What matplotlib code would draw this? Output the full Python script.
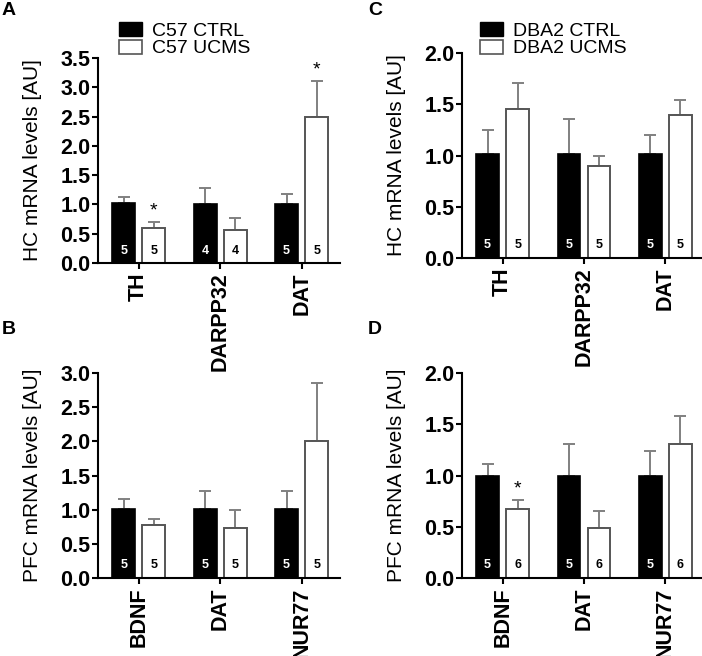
import matplotlib
matplotlib.use("Agg")
import matplotlib.pyplot as plt
from matplotlib.ticker import FormatStrFormatter, MultipleLocator
from matplotlib.patches import Patch
import numpy as np

plt.rcParams['font.family'] = ['Liberation Sans', 'DejaVu Sans']

# ---- data ----
genes_hc = ['TH', 'DARPP32', 'DAT']
genes_pfc = ['BDNF', 'DAT', 'NUR77']

# Panel A (C57, HC)
a_ctrl = [1.02, 1.01, 1.01]
a_ctrl_err = [0.10, 0.27, 0.16]
a_ucms = [0.59, 0.57, 2.50]
a_ucms_err = [0.11, 0.19, 0.60]
a_n_ctrl = [5, 4, 5]
a_n_ucms = [5, 4, 5]
a_star = [True, False, True]

# Panel B (C57, PFC)
b_ctrl = [1.01, 1.01, 1.01]
b_ctrl_err = [0.14, 0.26, 0.27]
b_ucms = [0.77, 0.73, 2.00]
b_ucms_err = [0.10, 0.26, 0.85]
b_n_ctrl = [5, 5, 5]
b_n_ucms = [5, 5, 5]
b_star = [False, False, False]

# Panel C (DBA2, HC)
c_ctrl = [1.01, 1.01, 1.01]
c_ctrl_err = [0.24, 0.35, 0.19]
c_ucms = [1.45, 0.90, 1.40]
c_ucms_err = [0.26, 0.10, 0.14]
c_n_ctrl = [5, 5, 5]
c_n_ucms = [5, 5, 5]
c_star = [False, False, False]

# Panel D (DBA2, PFC)
d_ctrl = [1.00, 1.00, 1.00]
d_ctrl_err = [0.11, 0.31, 0.24]
d_ucms = [0.67, 0.49, 1.31]
d_ucms_err = [0.09, 0.16, 0.27]
d_n_ctrl = [5, 5, 5]
d_n_ucms = [6, 6, 6]
d_star = [True, False, False]

FW, FH = 702, 656
fig = plt.figure(figsize=(FW / 100, FH / 100), dpi=100)

EDGE_GRAY = '#555555'
ERR_GRAY = '#808080'
W = 0.28
OFF = 0.185


def panel(rect, genes, ctrl, cerr, ucms, uerr, nc, nu, stars, ymax, ylabel,
          legend_labels=None, legend_xy=None, xright=2.47):
    ax = fig.add_axes(rect)
    x = np.arange(len(genes))
    ax.bar(x - OFF, ctrl, W, color='black', edgecolor='black', linewidth=1.2,
           zorder=2)
    ax.bar(x + OFF, ucms, W, color='white', edgecolor=EDGE_GRAY, linewidth=1.4,
           zorder=2)
    ax.errorbar(x - OFF, ctrl, yerr=[np.zeros(len(x)), cerr], fmt='none',
                ecolor=ERR_GRAY, elinewidth=1.4, capsize=4.5, capthick=1.4,
                zorder=1)
    ax.errorbar(x + OFF, ucms, yerr=[np.zeros(len(x)), uerr], fmt='none',
                ecolor=ERR_GRAY, elinewidth=1.4, capsize=4.5, capthick=1.4,
                zorder=1)
    for i in range(len(x)):
        ax.annotate(str(nc[i]), (x[i] - OFF, 0), xytext=(0, 9),
                    textcoords='offset points', ha='center', va='center',
                    color='white', fontsize=9, fontweight='bold', zorder=3)
        ax.annotate(str(nu[i]), (x[i] + OFF, 0), xytext=(0, 9),
                    textcoords='offset points', ha='center', va='center',
                    color='black', fontsize=9, fontweight='bold', zorder=3)
        if stars[i]:
            ax.annotate('*', (x[i] + OFF, ucms[i] + uerr[i]), xytext=(0, 2),
                        textcoords='offset points', ha='center', va='bottom',
                        color='black', fontsize=14, zorder=3)
    ax.set_xlim(-0.5, xright)
    ax.set_ylim(0, ymax)
    ax.yaxis.set_major_locator(MultipleLocator(0.5))
    ax.yaxis.set_major_formatter(FormatStrFormatter('%.1f'))
    ax.set_xticks(x)
    ax.set_xticklabels(genes, rotation=90, fontsize=15.5, fontweight='bold')
    for lab in ax.get_yticklabels():
        lab.set_fontweight('bold')
        lab.set_fontsize(15.5)
    ax.tick_params(axis='y', length=4, width=1.5, pad=1.5)
    ax.tick_params(axis='x', length=4, width=1.5, pad=3)
    for s in ['top', 'right']:
        ax.spines[s].set_visible(False)
    for s in ['left', 'bottom']:
        ax.spines[s].set_linewidth(1.5)
    ax.set_ylabel(ylabel, fontsize=15, labelpad=13)
    if legend_labels is not None:
        handles = [Patch(facecolor='black', edgecolor='black'),
                   Patch(facecolor='white', edgecolor=EDGE_GRAY, linewidth=1.2)]
        ax.legend(handles, legend_labels, loc='upper left',
                  bbox_to_anchor=(legend_xy[0] / FW, 1 - legend_xy[1] / FH),
                  bbox_transform=fig.transFigure, frameon=False, fontsize=14,
                  handlelength=1.2, handleheight=0.72, handletextpad=0.5,
                  labelspacing=0.0, borderaxespad=0, borderpad=0)
    return ax


panel([98 / FW, 1 - 263 / FH, 242 / FW, 205 / FH], genes_hc, a_ctrl, a_ctrl_err,
      a_ucms, a_ucms_err, a_n_ctrl, a_n_ucms, a_star, 3.5,
      'HC mRNA levels [AU]', ['C57 CTRL', 'C57 UCMS'], (119, 22))
panel([98 / FW, 1 - 578 / FH, 242 / FW, 205 / FH], genes_pfc, b_ctrl,
      b_ctrl_err, b_ucms, b_ucms_err, b_n_ctrl, b_n_ucms, b_star, 3.0,
      'PFC mRNA levels [AU]')
panel([462 / FW, 1 - 258 / FH, 240 / FW, 205 / FH], genes_hc, c_ctrl,
      c_ctrl_err, c_ucms, c_ucms_err, c_n_ctrl, c_n_ucms, c_star, 2.0,
      'HC mRNA levels [AU]', ['DBA2 CTRL', 'DBA2 UCMS'], (480, 22),
      xright=2.45)
panel([462 / FW, 1 - 578 / FH, 240 / FW, 205 / FH], genes_pfc, d_ctrl,
      d_ctrl_err, d_ucms, d_ucms_err, d_n_ctrl, d_n_ucms, d_star, 2.0,
      'PFC mRNA levels [AU]', xright=2.45)

for letter, (px, py) in {'A': (2, 2), 'B': (2, 321), 'C': (368, 2),
                          'D': (368, 321)}.items():
    fig.text(px / FW, 1 - py / FH, letter, fontsize=14, fontweight='bold',
             ha='left', va='top')

fig.savefig('out.png', dpi=100)
